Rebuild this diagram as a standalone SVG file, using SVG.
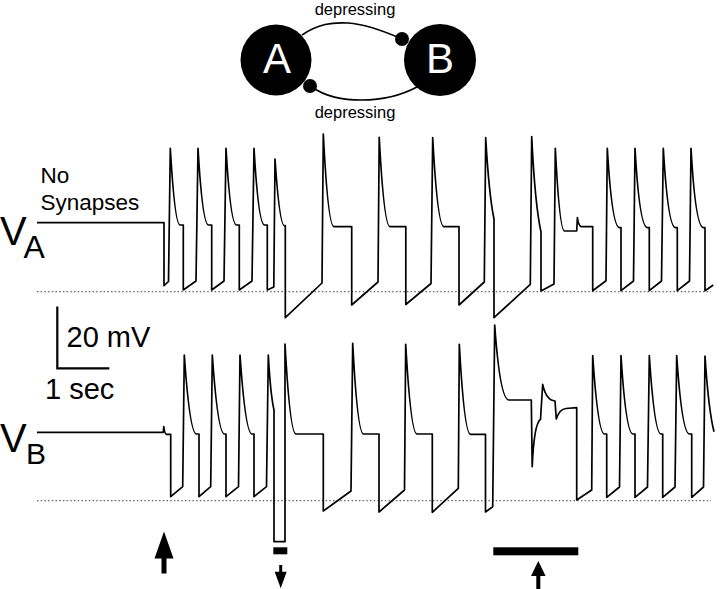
<svg xmlns="http://www.w3.org/2000/svg" width="720" height="589" viewBox="0 0 720 589">
<style>
text{font-family:"Liberation Sans",Arial,sans-serif;fill:#000}
.trace{fill:none;stroke:#000;stroke-width:1.7;stroke-linejoin:round}
.base{stroke:#666;stroke-width:1.3;stroke-dasharray:1.5 2.2;fill:none}
.syn{fill:none;stroke:#000;stroke-width:1.7}
.lbl{font-size:16.5px;text-anchor:middle}
.node{fill:#000}
.nt{font-size:42px;fill:#fff;text-anchor:middle}
</style>
<rect width="720" height="589" fill="#fff"/>
<g id="connectors">
<path class="syn" d="M302,35 C318,24 332,22 348,23 C366,24 386,32 402,39"/>
<circle cx="402" cy="39" r="7" fill="#000"/>
<path class="syn" d="M310,86 C326,97 342,100 362,100 C382,100 400,96 417,87"/>
<circle cx="310" cy="86" r="7" fill="#000"/>
<text class="lbl" x="355" y="14.5">depressing</text>
<text class="lbl" x="355" y="118.3">depressing</text>
</g>
<g id="nodeA">
<circle class="node" cx="276" cy="60" r="35.5"/>
<text class="nt" x="277" y="73.3">A</text>
</g>
<g id="nodeB">
<circle class="node" cx="440" cy="60" r="36"/>
<text class="nt" x="440" y="73.3">B</text>
</g>
<g id="traceA">
<text x="40.5" y="183.3" font-size="22.5">No</text>
<text x="40.5" y="210" font-size="22.5">Synapses</text>
<text x="0" y="245" font-size="40">V</text>
<text x="23.5" y="258.3" font-size="32">A</text>
<line class="base" x1="37" y1="291.7" x2="711" y2="291.7"/>
<path class="trace" d="M37,222.7 H164 V285.7 L168.5,281.5 L170.3,148.3 Q174.8,225 180,225 H183.3
V290 L196,281 L198,148.3 Q202.5,225 208.5,225 H211.7
V290 L224,281 L226,148.3 Q230.5,225 236.5,225 H239.3
V290 L252,281 L254,148.3 Q258.5,225 264.5,225 H267.3
V290 L273.8,287 L275,159 Q279.5,225.7 284.5,225.7 H285.3
V317.7 L322,283 L323.3,134 Q328,226.7 334,226.7 H351.7
V305 L378,282 L379.2,137.3 Q384,226.7 390,226.7 H405.8
V304.5 L431,283.5 L432.7,137.5 Q437.5,226.7 444,226.7 H459
V305 L484.3,282 L485.7,137.7 Q489,195 494,219
V317.7 L530.3,284.3 L531.7,136.5 Q535,205 541,232
V291 L554,284 L555.3,148.3 Q559.5,231 564.5,231 H576.7 L577.4,217.5 Q578.3,225 581,226.7 H592.7
V290.7 L606,280.7 L607.3,148.3 Q612,227.7 619.5,227.7 H621
V290.7 L633.5,281 L635,148.3 Q639.5,227.7 647.5,227.7 H649.3
V290.7 L661.5,281 L663.3,148.3 Q668,227.7 675.5,227.7 H677.3
V290.7 L689.5,281 L691,148.3 Q695.5,227.7 703.5,227.7 H705
V290.7 L713.3,285"/>
</g>
<g id="scalebar">
<path d="M57.3,306.5 V368.3 H109.3" fill="none" stroke="#000" stroke-width="2.2"/>
<text x="66.5" y="346.7" font-size="29">20 mV</text>
<text x="45" y="399.3" font-size="29">1 sec</text>
</g>
<g id="traceB">
<text x="0" y="451.7" font-size="40">V</text>
<text x="26" y="464" font-size="30">B</text>
<line class="base" x1="37" y1="500.7" x2="711" y2="500.7"/>
<path class="trace" d="M37,432.3 H163.3 L163.8,426.5 Q164.5,433.5 166.3,434.3 H170.7
V496.7 L182.7,486.7 L184.3,355 Q189.8,434 196.5,434 H199
V496.7 L210.7,486.7 L212.3,355 Q217.8,434 224.5,434 H226
V496.7 L238.5,486.7 L240,355 Q245.5,434 252,434 H254
V496.7 L266.5,486.7 L268.3,355 Q270.5,395 274,410
V541.7 H285 V344 Q290,434 296,434 H323.3
V511 L351,491 L352.7,343.3 Q357.5,434 363.5,434 H379
V512 L404.5,490 L405.7,344.3 Q410.8,434 417,434 H432.3
V512.3 L458.3,488.3 L459.3,344.3 Q464.3,434.3 470.5,434.3 H485.5
V512 L492.7,506.7 L494.7,325 Q500,400 509,400 H531.3
L532.2,466.7 Q534,424 540.5,419.3 L542.7,384.3 Q546,400 555,401 L556.3,419 Q559.5,409 566,408.5 L576.7,407.7
V500 L591.7,490 L592.7,355.7 Q598,434 604.5,434 H606.7
V497.3 L619.5,487 L621,355.7 Q626,434 633,434 H635
V497.3 L647.5,487 L649.3,355.7 Q654.5,434 661,434 H662.7
V497.3 L675,487 L676.7,355.7 Q682,434 689.5,434 H691.7
V497.3 L703.5,487 L705,356 Q708.5,410 714,431.7"/>
</g>
<g id="markers">
<polygon points="164,531.5 173.5,558.5 166.5,558.5 166.5,573.5 161.5,573.5 161.5,558.5 154.5,558.5" fill="#000"/>
<rect x="273.3" y="547.3" width="14" height="7" fill="#000"/>
<polygon points="280.7,588.3 286.7,571.7 282.2,571.7 282.2,565 279.2,565 279.2,571.7 274.7,571.7" fill="#000"/>
<rect x="493.3" y="547.3" width="85" height="8" fill="#000"/>
<polygon points="538.3,561 545.6,576 540.3,576 540.3,589 536.3,589 536.3,576 531,576" fill="#000"/>
</g>
</svg>
